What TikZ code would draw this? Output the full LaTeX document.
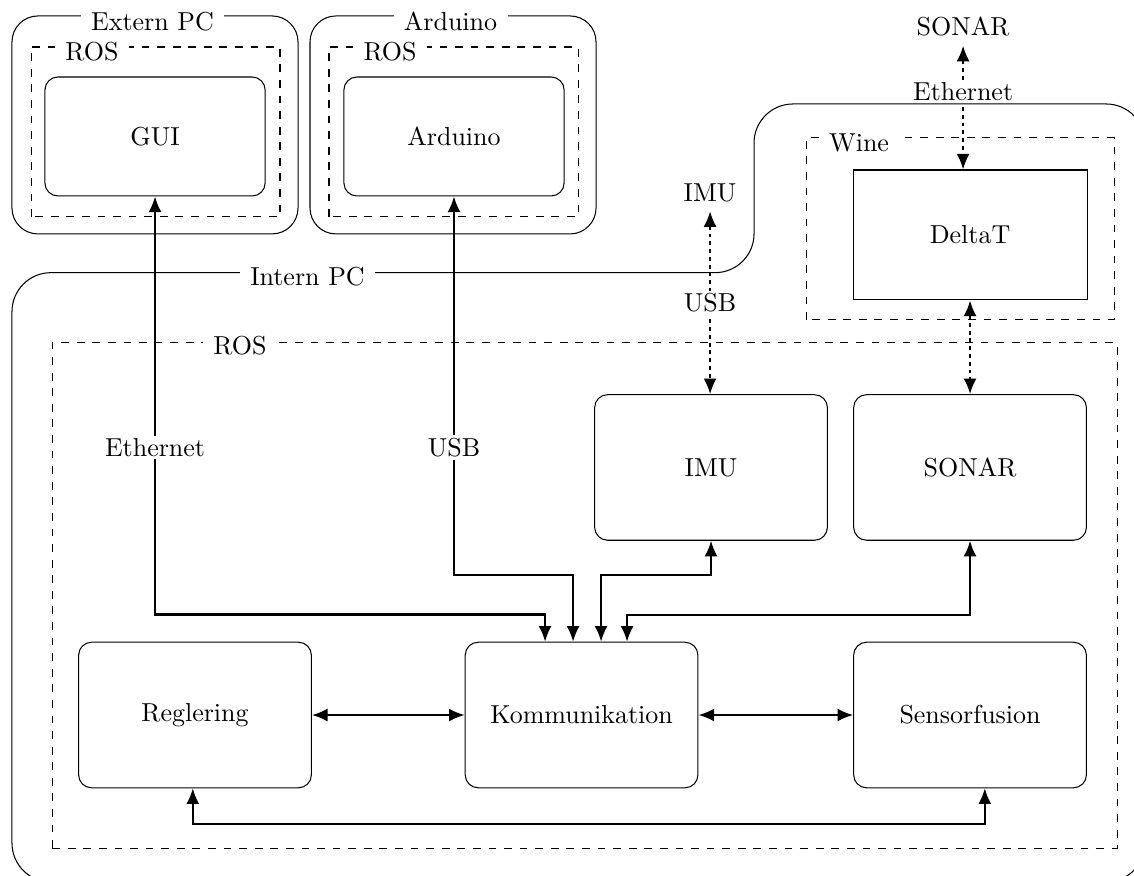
\documentclass[tikz,border=0pt]{standalone}
\usetikzlibrary{arrows.meta,calc}

\begin{document}
\begin{tikzpicture}[
  box/.style={draw,rounded corners=5pt,minimum width=3.15cm,minimum height=1.97cm},
  frame/.style={draw,rounded corners=10pt},
  rosframe/.style={draw,dashed},
  framelabel/.style={fill=white,inner xsep=4pt,inner ysep=1pt},
  conn/.style={thick,{Latex[length=6pt,width=5pt]}-{Latex[length=6pt,width=5pt]}},
  link/.style={conn,dash pattern=on 1.5pt off 1.5pt},
  linklabel/.style={fill=white,inner sep=1pt}]
\clip (0,0) rectangle (15.346,11.841);

% Extern PC
\draw[frame] (0.162,8.675) rectangle (4.033,11.625);
\draw[rosframe] (0.420,8.905) rectangle (3.789,11.205);
\node[box,minimum width=2.98cm,minimum height=1.61cm] (gui) at (2.098,9.994) {GUI};
\node[framelabel] (extpc) at (2.064,11.55) {Extern PC};
\node[framelabel] (extros) at (1.245,11.14) {ROS};

% Arduino
\draw[frame] (4.195,8.675) rectangle (8.066,11.625);
\draw[rosframe] (4.452,8.905) rectangle (7.822,11.205);
\node[box,minimum width=2.98cm,minimum height=1.61cm] (ard) at (6.144,9.994) {Arduino};
\node[framelabel] (ardpc) at (6.097,11.55) {Arduino};
\node[framelabel] (ardros) at (5.278,11.14) {ROS};

% Intern PC
\draw[rounded corners=15pt] (0.162,-0.095) -- (0.162,8.151) -- (10.204,8.151)
  -- (10.204,10.434) -- (15.495,10.434) -- (15.495,-0.095) -- cycle;
\node[framelabel] (intpc) at (4.161,8.098) {Intern PC};
\draw[rosframe] (0.704,0.365) rectangle (15.116,7.200);
\node[framelabel] (intros) at (3.248,7.159) {ROS};
\draw[rosframe] (10.908,7.511) rectangle (15.076,9.974);
\node[framelabel] (wine) at (11.625,9.906) {Wine};

\node[draw,minimum width=3.167cm,minimum height=1.759cm] (deltat) at (13.127,8.661) {DeltaT};

\node[box] (imu) at (9.622,5.515) {IMU};
\node[box] (sonar) at (13.127,5.515) {SONAR};
\node[box] (reg) at (2.639,2.165) {Reglering};
\node[box] (kom) at (7.870,2.165) {Kommunikation};
\node[box] (sen) at (13.127,2.165) {Sensorfusion};

\node (imuext) at (9.609,9.23) {IMU};
\node (sonarext) at (13.033,11.476) {SONAR};

\draw[conn] (gui.south) -- node[pos=.6,linklabel] {Ethernet} ++(0,-5.657) -| ([xshift=-0.494cm]kom.north);
\draw[conn] (ard.south) -- node[pos=.664,linklabel] {USB} ++(0,-5.116) -| ([xshift=-0.115cm]kom.north);
\draw[conn] (imu.south) -- ++(0,-0.461) -| ([xshift=0.264cm]kom.north);
\draw[conn] (sonar.south) -- ++(0,-1.002) -| ([xshift=0.616cm]kom.north);

\draw[conn] (reg) -- (kom);
\draw[conn] (kom) -- (sen);
\draw[conn] ([xshift=-0.03cm]reg.south) -- ++(0,-0.487) -| ([xshift=0.2cm]sen.south);

\draw[link] (imuext.south) -- node[linklabel] {USB} (imuext.south |- imu.north);
\draw[link] (sonarext.south) -- node[pos=.37,linklabel] {Ethernet} (sonarext.south |- deltat.north);
\draw[link] (deltat.south) -- (sonar.north);

\end{tikzpicture}
\end{document}
